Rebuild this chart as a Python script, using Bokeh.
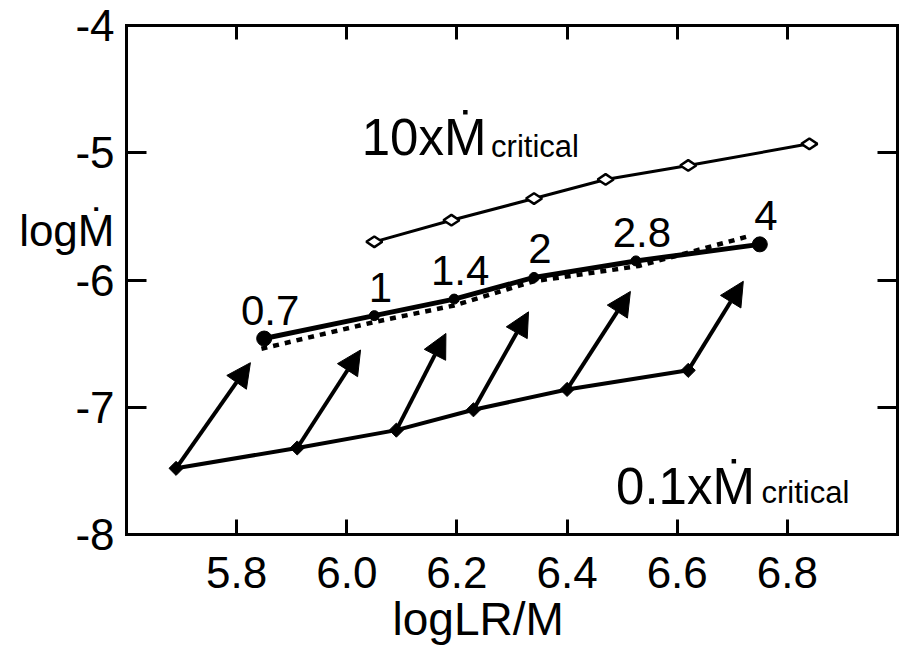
import math
from bokeh.plotting import figure
from bokeh.models import (Range1d, FixedTicker, LinearAxis, PrintfTickFormatter,
                          Label, LabelSet, ColumnDataSource, Arrow, NormalHead, Title)
from bokeh.core.properties import value
from bokeh.embed import file_html
from bokeh.resources import INLINE

# ---------------- data ----------------
# 10 x Mdot_critical (open diamonds)
hi_x = [6.05, 6.19, 6.34, 6.47, 6.62, 6.84]
hi_y = [-5.70, -5.53, -5.36, -5.21, -5.10, -4.93]
# 0.1 x Mdot_critical (filled diamonds)
lo_x = [5.69, 5.91, 6.09, 6.23, 6.40, 6.62]
lo_y = [-7.48, -7.32, -7.18, -7.02, -6.86, -6.71]
# critical line (filled circles, solid)
mid_x = [5.85, 6.05, 6.195, 6.34, 6.525, 6.75]
mid_y = [-6.46, -6.28, -6.15, -5.98, -5.85, -5.72]
mid_labels = ["0.7", "1", "1.4", "2", "2.8", "4"]
# dotted line
dot_x = [5.845, 6.05, 6.195, 6.34, 6.53, 6.735]
dot_y = [-6.54, -6.33, -6.20, -6.01, -5.89, -5.65]
# arrow tips (arrows start at the 0.1x points)
arrow_end_x = [5.825, 6.025, 6.18, 6.33, 6.515, 6.72]
arrow_end_y = [-6.65, -6.55, -6.42, -6.25, -6.09, -6.01]

x_start, x_end = 5.6, 7.0
y_start, y_end = -8.0, -4.0
x_ticks = [5.8, 6.0, 6.2, 6.4, 6.6, 6.8]
y_ticks = [-8, -7, -6, -5, -4]
y_tick_labels = ["-8", "-7", "-6", "-5", "-4"]
y_title = "log\u1E40"
y_title_at = -5.61
x_title = "logLR/M"

FONT = "Liberation Sans"

p = figure(width=900, height=656,
           x_range=Range1d(x_start, x_end), y_range=Range1d(y_start, y_end),
           output_backend="svg", toolbar_location=None,
           x_axis_location=None, y_axis_location=None,
           min_border_left=126, min_border_right=3,
           min_border_top=25, min_border_bottom=122)
p.grid.visible = False
p.outline_line_color = None
p.background_fill_color = "white"
p.border_fill_color = "white"


def make_axis(ticks, tick_in):
    ax = LinearAxis(ticker=FixedTicker(ticks=ticks))
    ax.axis_line_color = "black"
    ax.axis_line_width = 3
    ax.axis_line_cap = "square"
    ax.major_tick_line_color = "black"
    ax.major_tick_line_width = 3
    ax.major_tick_in = tick_in
    ax.major_tick_out = 0
    ax.minor_tick_line_color = None
    return ax


def hide_labels(ax):
    ax.major_label_text_color = None
    ax.major_label_text_font_size = "1px"
    ax.major_label_standoff = 0


bottom = make_axis(x_ticks, 15)
bottom.formatter = PrintfTickFormatter(format="%.1f")
bottom.major_label_text_font = FONT
bottom.major_label_text_font_size = "44px"
bottom.major_label_text_color = "black"
bottom.major_label_standoff = 22
p.add_layout(bottom, "below")

p.add_layout(Title(text=x_title, align="left", offset=266, standoff=0,
                   text_font=FONT, text_font_size="46px", text_font_style="normal",
                   text_color="black"), "below")

# inner left axis: frame line + inward ticks
left = make_axis(y_ticks, 20)
hide_labels(left)
p.add_layout(left, "left")

# outer left axis: only the tick labels and the horizontal axis title
left_lab = LinearAxis(ticker=FixedTicker(ticks=y_ticks + [y_title_at]))
left_lab.axis_line_color = None
left_lab.major_tick_line_color = None
left_lab.minor_tick_line_color = None
left_lab.major_tick_in = 0
left_lab.major_tick_out = 0
left_lab.major_label_standoff = 12
left_lab.major_label_text_font = FONT
left_lab.major_label_text_font_size = "44px"
left_lab.major_label_text_color = "black"
overrides = {t: s for t, s in zip(y_ticks, y_tick_labels)}
overrides[y_title_at] = y_title
left_lab.major_label_overrides = overrides
p.add_layout(left_lab, "left")

top = make_axis(x_ticks, 14)
hide_labels(top)
p.add_layout(top, "above")

right = make_axis(y_ticks, 20)
hide_labels(right)
p.add_layout(right, "right")

# ---------------- series ----------------
p.line(dot_x, dot_y, line_color="black", line_width=4.5, line_dash="6 6")
p.line(mid_x, mid_y, line_color="black", line_width=5)
p.scatter(mid_x, mid_y, marker="circle", size=10, color="black")
p.scatter([mid_x[0], mid_x[-1]], [mid_y[0], mid_y[-1]], marker="circle", size=15, color="black")

p.line(hi_x, hi_y, line_color="black", line_width=3)
p.scatter(hi_x, hi_y, marker="diamond", size=16, angle=math.pi / 2,
          fill_color="white", line_color="black", line_width=2.5)

p.line(lo_x, lo_y, line_color="black", line_width=4)
p.scatter(lo_x, lo_y, marker="square", size=10, angle=math.pi / 4, color="black")

arrow_src = ColumnDataSource(dict(x0=lo_x, y0=lo_y, x1=arrow_end_x, y1=arrow_end_y))
p.add_layout(Arrow(x_start="x0", y_start="y0", x_end="x1", y_end="y1", source=arrow_src,
                   line_color="black", line_width=4,
                   end=NormalHead(size=24, fill_color="black", line_color="black", line_width=1)))

mid_src = ColumnDataSource(dict(x=mid_x, y=mid_y, text=mid_labels))
p.add_layout(LabelSet(x="x", y="y", text="text", source=mid_src,
                      x_offset=6, y_offset=14, text_align="center",
                      text_baseline="alphabetic", text_font=value(FONT),
                      text_font_size="42px", text_color="black"))

# ---------------- annotations ----------------
def add_label(x, y, text, size, align="left"):
    p.add_layout(Label(x=x, y=y, text=text, text_font=FONT, text_font_size=size,
                       text_color="black", text_align=align, text_baseline="alphabetic"))


add_label(6.027, -4.880, "10x\u1E40", "51px")
add_label(6.262, -4.949, "critical", "31px")
add_label(6.489, -7.624, "0.1x\u1E40", "51px")
add_label(6.753, -7.670, "critical", "31px")

open("out.html", "w").write(file_html(p, INLINE))
